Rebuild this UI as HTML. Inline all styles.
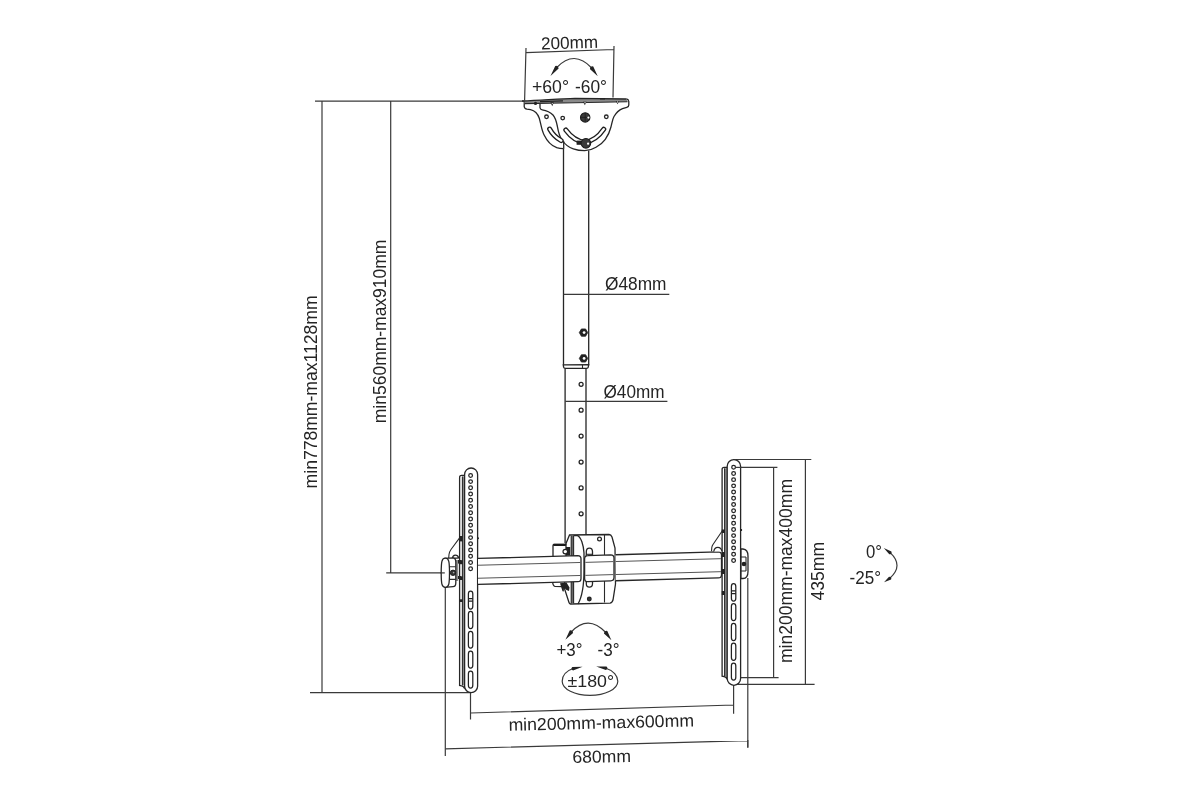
<!DOCTYPE html>
<html><head><meta charset="utf-8">
<style>
html,body{margin:0;padding:0;background:#fff;width:1200px;height:799px;overflow:hidden}
svg{display:block;will-change:transform}
text{font-family:"Liberation Sans",sans-serif;font-size:17.5px;fill:#242424}
.l{stroke:#3a3a3a;stroke-width:1.2;fill:none}
.t{stroke:#2a2a2a;stroke-width:1.1;fill:none}
.o{stroke:#262626;stroke-width:1.3;fill:none}
.w{stroke:#262626;stroke-width:1.3;fill:#fff}
.d{fill:#222;stroke:none}
.h{stroke:#222;stroke-width:1.25;fill:none}
.bi{stroke:#555;stroke-width:1;fill:none}
</style></head><body>
<svg width="1200" height="799" viewBox="0 0 1200 799">
<!-- ===== LEFT DIMENSIONS ===== -->
<g id="leftdims">
<path class="l" d="M315,101.2 L524,101.2 M322,101.2 L322,692.7 M310,692.7 L470,692.7 M390.7,101.2 L390.7,572.9 M386.2,572.9 L444.6,572.9 M445.3,587.5 L445.3,756"/>
<text transform="translate(316.5 488.4) rotate(-90)" x="0" y="0" textLength="193" lengthAdjust="spacingAndGlyphs">min778mm-max1128mm</text>
<text transform="translate(386 423.2) rotate(-90)" x="0" y="0" textLength="183.6" lengthAdjust="spacingAndGlyphs">min560mm-max910mm</text>
</g>

<!-- ===== RIGHT DIMS ===== -->
<g id="rightdims">
<path class="l" d="M733.3,459.5 L811.3,459.5 M805.4,459.5 L805.4,684.4 M733.5,684.4 L814.6,684.4"/>
<path class="l" d="M735.3,467.4 L777.4,467.4 M773.6,467.4 L773.6,677.6 M735,677.6 L778.6,677.6 M747.8,578 L747.8,747.5"/>
<text transform="translate(792 663) rotate(-90)" textLength="184" lengthAdjust="spacingAndGlyphs">min200mm-max400mm</text>
<text transform="translate(824 600.5) rotate(-90)" textLength="58.5" lengthAdjust="spacingAndGlyphs">435mm</text>
<text x="866" y="558.1" textLength="16" lengthAdjust="spacingAndGlyphs">0°</text>
<text x="849.5" y="583.9" textLength="31.5" lengthAdjust="spacingAndGlyphs">-25°</text>
<path class="l" d="M890.1,552.65 Q904.05,565.5 889.8,578.3"/>
<path class="d" d="M891.41,551.38 L883.80,548.00 L889.27,554.28 Q892.35,554.31 891.41,551.38 Z M889.03,576.65 L884.00,582.30 L891.07,579.61 Q892.10,576.71 889.03,576.65 Z"/>
</g>

<!-- ===== BOTTOM DIMS ===== -->
<g id="bottomdims">
<path class="l" d="M470.5,692.7 L470.5,719.5 M470.5,713 L733.75,705 M733.6,685 L733.6,713.8"/>
<path class="l" d="M445.3,748.8 L747.8,740.6 M747.8,740 L747.8,747.8"/>
<text x="508.5" y="728.6" textLength="185.5" lengthAdjust="spacingAndGlyphs" transform="rotate(-1.4 600 723)">min200mm-max600mm</text>
<text x="572.5" y="762.5" textLength="58.5" lengthAdjust="spacingAndGlyphs" transform="rotate(-1 600 757)">680mm</text>
</g>

<!-- ===== TOP DIMENSION 200mm ===== -->
<g id="top">
<path class="l" d="M526,52.7 L614,49.5 M526,48 L524.6,100.5 M614,46 L613,97.5"/>
<text x="541" y="48.6" textLength="57" lengthAdjust="spacingAndGlyphs" transform="rotate(-1.8 570 43)">200mm</text>
<path class="l" d="M556.75,67.5 Q574.25,49.25 591.75,68"/>
<path class="d" d="M555.24,66.01 L550.50,76.00 L558.62,68.50 Q558.41,65.24 555.24,66.01 Z M589.88,68.99 L597.75,76.25 L593.27,66.52 Q590.10,65.74 589.88,68.99 Z"/>
<text x="532" y="92.8" textLength="37" lengthAdjust="spacingAndGlyphs">+60°</text>
<text x="575" y="92.8" textLength="32" lengthAdjust="spacingAndGlyphs">-60°</text>
</g>

<!-- ===== CEILING BRACKET ===== -->
<g id="ceiling">
<path class="w" d="M524.3,101 L524.2,106.5 Q524.5,108.8 527,109.2 L530.5,109.6 C534,110.5 537.5,113 539.2,118 C541,124 541.5,130 544,134.7 C547,141 551,145.5 556.7,147.7 C559,148.5 561,148.7 563.5,148.7"/>
<path class="w" d="M540,101.6 L540,107.8 Q540.2,109.6 542.2,109.9 C546,110.6 550,112 553,115 C555.5,117.8 556.5,122 557.3,126 C558.2,131 559,136 562,140 C565,144.5 569,147.5 573.3,148.9 C577,150.2 581,150.7 584.7,150.7 C589,150.6 592.5,149.5 596,147.3 C600,145 603,142.5 605.3,139.3 C608,135.5 609.8,131.5 610.8,127.5 C612,123 612.5,119 614,116.5 C616,113 619,110 622.5,108.6 L626.8,107.4 Q628.8,106.8 628.8,105 L628.8,101.5 Q628.6,99.3 626.5,99"/>
<path d="M524.5,101 C545,100 560,98.6 575,98.3 L626.5,99 L627.5,101.7 L575,102.8 C560,102.9 545,103.3 524.5,103.8 Z" fill="#8a8a8a" stroke="none"/>
<path class="o" d="M522,101 C545,100 560,98.6 575,98.3 L626.5,99"/>
<path class="t" d="M524.5,103.6 C545,103.2 560,102.9 575,102.8 L627.5,101.7" stroke-width="0.9"/>
<path d="M540,101.6 L563,100.8" stroke="#222" stroke-width="1.3"/>
<path d="M600,98.8 L605,98.8" stroke="#222" stroke-width="1.4"/>
<circle class="d" cx="535.5" cy="103.4" r="1.6"/>
<path class="d" d="M550.3,102.2 L553.8,102.2 L552.3,106.2 Z"/>
<path class="d" d="M583,101.8 L586.5,101.8 L584.9,105.3 Z"/>
<path class="d" d="M615.8,100.9 L619.2,100.9 L617.6,104.2 Z"/>
<circle fill="#ddd" cx="552.3" cy="103.6" r="0.7"/>
<circle fill="#ddd" cx="585" cy="102.8" r="0.7"/>
<circle fill="#ddd" cx="617.6" cy="102" r="0.7"/>
<circle class="o" cx="546.5" cy="116.8" r="1.8"/>
<circle class="o" cx="562.7" cy="118.1" r="1.8"/>
<circle class="o" cx="606.3" cy="116.8" r="1.8"/>
<circle cx="585.2" cy="117.4" r="4.7" fill="#3a3a3a" stroke="#1a1a1a" stroke-width="1.1"/>
<path d="M581,117.4 h7 M585.2,113.2 v8" stroke="#1e1e1e" stroke-width="0.8"/>
<circle fill="#fff" cx="588.4" cy="117.6" r="1.1"/>
<!-- slots -->
<path d="M549.6,129 C552,133.5 555.5,137.5 561.2,140.6" fill="none" stroke="#1e1e1e" stroke-width="5" stroke-linecap="round"/>
<path d="M549.6,129 C552,133.5 555.5,137.5 561.2,140.6" fill="none" stroke="#fff" stroke-width="2.4" stroke-linecap="round"/>
<path d="M565.8,130 C571,137 577,141.5 584.7,142.2 C592,141.5 598.5,137 603.8,129.2" fill="none" stroke="#1e1e1e" stroke-width="5" stroke-linecap="round"/>
<path d="M565.8,130 C571,137 577,141.5 584.7,142.2 C592,141.5 598.5,137 603.8,129.2" fill="none" stroke="#fff" stroke-width="2.4" stroke-linecap="round"/>
<path class="o" d="M563.7,141.3 L563.7,148.7"/>
<rect class="d" x="576.6" y="140.6" width="4.8" height="4.2"/>
<circle cx="585.9" cy="143.3" r="4.8" fill="#3a3a3a" stroke="#1a1a1a" stroke-width="1.1"/>
<circle fill="#fff" cx="588.1" cy="143.7" r="1.1"/>
</g>

<!-- ===== POLE ===== -->
<g id="pole">
<path class="o" d="M563.5,148.6 L563.5,365.5 M588.7,150.4 L588.7,365.5" stroke-width="1.25"/>
<path class="w" d="M563.3,364.8 L588.6,364.6 L588.3,367.2 Q588,368.3 586.5,368.3 L565.5,368.4 Q563.8,368.3 563.6,367.2 Z" stroke-width="1.1"/>
<path class="t" d="M582.5,364.8 L582.5,368.3" stroke-width="0.9"/>
<polygon points="587.70,332.60 585.60,336.24 581.40,336.24 579.30,332.60 581.40,328.96 585.60,328.96" fill="#222" stroke="#222" stroke-width="0.8" stroke-linejoin="round"/><circle cx="584.1" cy="332.6" r="1.4" fill="#fff"/>
<polygon points="587.70,358.40 585.60,362.04 581.40,362.04 579.30,358.40 581.40,354.76 585.60,354.76" fill="#222" stroke="#222" stroke-width="0.8" stroke-linejoin="round"/><circle cx="584.1" cy="358.4" r="1.4" fill="#fff"/>
<path class="o" d="M565.1,368.4 L565.1,543 M586,368.4 L586,535.6" stroke-width="1.25"/>
<circle class="h" cx="581.1" cy="384.3" r="2"/>
<circle class="h" cx="581.1" cy="410.2" r="2"/>
<circle class="h" cx="581.1" cy="436.1" r="2"/>
<circle class="h" cx="581.1" cy="462" r="2"/>
<circle class="h" cx="581.1" cy="487.9" r="2"/>
<circle class="h" cx="581.1" cy="513.8" r="2"/>
<path class="l" d="M563.5,294.4 L669.3,294.4 M565.3,401.4 L667.4,401.4"/>
<text x="605" y="289.7" textLength="61.5" lengthAdjust="spacingAndGlyphs">Ø48mm</text>
<text x="603.5" y="398" textLength="61" lengthAdjust="spacingAndGlyphs">Ø40mm</text>
</g>

<!-- ===== BRACKETS ===== -->
<g id="brackets">
<path class="w" d="M459.6,685.5 L459.6,477.4 Q459.6,475.4 461.6,475.4 L464.6,475.4 L464.6,688.5 Q463.6,686.0 461.6,685.8 Z"/>
<rect x="462.4" y="476.4" width="2.2000000000000455" height="209.10000000000002" fill="#8c8c8c"/>
<path class="t" d="M462.4,476.4 L462.4,685.5"/>
<rect class="d" x="459.3" y="536" width="3.3999999999999546" height="5.399999999999977"/>
<rect class="d" x="459.3" y="560.2" width="3.3999999999999546" height="4.0"/>
<rect class="d" x="459.3" y="576.4" width="3.3999999999999546" height="3.6000000000000227"/>
<rect class="d" x="459.3" y="599.3" width="3.3999999999999546" height="2.7000000000000455"/>
<path class="w" d="M464.6,474.5 L464.6,686.2 A6.5,6.5 0 0 0 477.6,686.2 L477.6,474.5 A6.5,6.5 0 0 0 464.6,474.5 Z"/>
<circle class="h" cx="470.6" cy="475.40" r="1.85"/>
<circle class="h" cx="470.6" cy="481.62" r="1.85"/>
<circle class="h" cx="470.6" cy="487.84" r="1.85"/>
<circle class="h" cx="470.6" cy="494.06" r="1.85"/>
<circle class="h" cx="470.6" cy="500.28" r="1.85"/>
<circle class="h" cx="470.6" cy="506.50" r="1.85"/>
<circle class="h" cx="470.6" cy="512.72" r="1.85"/>
<circle class="h" cx="470.6" cy="518.94" r="1.85"/>
<circle class="h" cx="470.6" cy="525.16" r="1.85"/>
<circle class="h" cx="470.6" cy="531.38" r="1.85"/>
<circle class="h" cx="470.6" cy="537.60" r="1.85"/>
<circle class="h" cx="470.6" cy="543.82" r="1.85"/>
<circle class="h" cx="470.6" cy="550.04" r="1.85"/>
<circle class="h" cx="470.6" cy="556.26" r="1.85"/>
<circle class="h" cx="470.6" cy="562.48" r="1.85"/>
<circle class="h" cx="470.6" cy="568.70" r="1.85"/>
<rect class="h" x="468.40" y="591" width="4.4" height="18.00" rx="2.2" ry="2.8000000000000003"/>
<path class="h" d="M468.40,598.60 h4.4 M468.40,601.20 h4.4" stroke-width="0.9"/>
<rect class="h" x="468.40" y="611.3" width="4.4" height="17.20" rx="2.2" ry="2.8000000000000003"/>
<rect class="h" x="468.40" y="631.3" width="4.4" height="16.70" rx="2.2" ry="2.8000000000000003"/>
<rect class="h" x="468.40" y="651.2" width="4.4" height="16.80" rx="2.2" ry="2.8000000000000003"/>
<rect class="h" x="468.40" y="671" width="4.4" height="17.00" rx="2.2" ry="2.8000000000000003"/>
<circle class="d" cx="478.0" cy="538.3" r="1"/>
<circle class="d" cx="478.0" cy="562" r="1"/>
<circle class="d" cx="478.0" cy="578" r="1"/>
<path class="w" d="M722.1,676.2 L722.1,469.3 Q722.1,467.3 724.1,467.3 L727.2,467.3 L727.2,679.2 Q726.2,676.7 724.1,676.5 Z"/>
<rect x="724.6" y="468.3" width="2.6000000000000227" height="207.90000000000003" fill="#8c8c8c"/>
<path class="t" d="M724.6,468.3 L724.6,676.2"/>
<rect class="d" x="721.8000000000001" y="529.5" width="3.1" height="3.5"/>
<rect class="d" x="721.8000000000001" y="552" width="3.1" height="5"/>
<rect class="d" x="721.8000000000001" y="569" width="3.1" height="5"/>
<rect class="d" x="721.8000000000001" y="591" width="3.1" height="4"/>
<path class="w" d="M727.2,466.3 L727.2,678.5999999999999 A6.699999999999989,6.699999999999989 0 0 0 740.6,678.5999999999999 L740.6,466.3 A6.699999999999989,6.699999999999989 0 0 0 727.2,466.3 Z"/>
<circle class="h" cx="733.6" cy="467.20" r="1.85"/>
<circle class="h" cx="733.6" cy="473.42" r="1.85"/>
<circle class="h" cx="733.6" cy="479.64" r="1.85"/>
<circle class="h" cx="733.6" cy="485.86" r="1.85"/>
<circle class="h" cx="733.6" cy="492.08" r="1.85"/>
<circle class="h" cx="733.6" cy="498.30" r="1.85"/>
<circle class="h" cx="733.6" cy="504.52" r="1.85"/>
<circle class="h" cx="733.6" cy="510.74" r="1.85"/>
<circle class="h" cx="733.6" cy="516.96" r="1.85"/>
<circle class="h" cx="733.6" cy="523.18" r="1.85"/>
<circle class="h" cx="733.6" cy="529.40" r="1.85"/>
<circle class="h" cx="733.6" cy="535.62" r="1.85"/>
<circle class="h" cx="733.6" cy="541.84" r="1.85"/>
<circle class="h" cx="733.6" cy="548.06" r="1.85"/>
<circle class="h" cx="733.6" cy="554.28" r="1.85"/>
<circle class="h" cx="733.6" cy="560.50" r="1.85"/>
<rect class="h" x="731.40" y="583.6" width="4.4" height="17.40" rx="2.2" ry="2.8000000000000003"/>
<path class="h" d="M731.40,590.90 h4.4 M731.40,593.50 h4.4" stroke-width="0.9"/>
<rect class="h" x="731.40" y="603.5" width="4.4" height="17.00" rx="2.2" ry="2.8000000000000003"/>
<rect class="h" x="731.40" y="623.3" width="4.4" height="17.20" rx="2.2" ry="2.8000000000000003"/>
<rect class="h" x="731.40" y="643" width="4.4" height="17.30" rx="2.2" ry="2.8000000000000003"/>
<rect class="h" x="731.40" y="663" width="4.4" height="17.00" rx="2.2" ry="2.8000000000000003"/>
<circle class="d" cx="741.0" cy="530" r="1"/>
</g>

<!-- ===== CLAMP ===== -->
<g id="clamp">
<!-- body -->
<path class="w" d="M569.5,535 L609,534.5 Q611,534.6 612,537 L615,548 L615.5,584 L613,600 Q612,603 610,603.2 L570.5,604 Q569.4,603.8 569,602.5 L564.6,589 L564.6,547 Z"/>
<rect x="571.2" y="535.8" width="2.4" height="67.8" fill="#6a6a6a"/>
<path class="t" d="M571.2,535.8 L571.2,603.6 M573.6,535.8 L573.6,603.6" stroke-width="0.8"/>
<path class="o" d="M573.6,535.6 L577.5,535.6 C581,537 583.5,545 584,553 L584,570 C584,585 582,597 578,604"/>
<path class="t" d="M604.5,534.6 L604.5,555 M604.5,581 L604.5,602.6"/>
<circle class="h" cx="599.5" cy="539" r="1.9"/>
<circle cx="589.3" cy="599" r="1.9" fill="#333" stroke="#222" stroke-width="1.1"/>
<path class="o" d="M586.3,556 L586.3,551.8 Q586.3,548.2 589.4,548.2 Q592.5,548.2 592.5,551.8 L592.5,556" stroke-width="1.6"/>
<path class="o" d="M586.3,581 L586.3,583.8 Q586.3,587.2 589.4,587.2 Q592.5,587.2 592.5,583.8 L592.5,581" stroke-width="1.8"/>
<path class="t" d="M586.6,554.3 h5.6" stroke-width="0.7"/>
<!-- left knob upper -->
<path class="w" d="M553,556.5 L553,545.5 Q553,544.5 554.2,544.5 L566,544.5 L566,556.5"/>
<path d="M553.3,544.9 L565.8,544.9" stroke="#1a1a1a" stroke-width="2.2"/>
<rect class="d" x="566" y="547" width="4.2" height="8.5"/>
<circle cx="565.3" cy="551.6" r="2.3" fill="#fff" stroke="#222" stroke-width="1.2"/>
<!-- left knob lower -->
<path class="o" d="M552.6,582 Q553,586 555,586.3 L563,586.6"/>
<path class="d" d="M560,583.2 L566.5,582.4 L569.5,587.5 L569,591 L566.5,590 L564,587.6 L563.8,591.5 L562.5,591.3 L561,586.5 Z"/>
<path d="M478.00,558.45 L577.80,555.67 Q581.00,555.67 581.00,558.87 L581.00,578.47 Q581.00,581.67 577.80,581.67 L478.00,584.45 Z" fill="#fff" stroke="none"/>
<path class="o" d="M478.00,558.45 L577.80,555.67 Q581.00,555.67 581.00,558.87 L581.00,578.47 Q581.00,581.67 577.80,581.67 L478.00,584.45"/>
<path class="bi" d="M478.00,565.25 L580.40,562.47 M478.00,578.25 L580.40,575.47"/>
<path d="M587.80,555.58 L610.80,554.78 Q614.00,554.78 614.00,557.98 L614.00,577.58 Q614.00,580.78 610.80,580.78 L587.80,581.58 Q584.60,581.58 584.60,578.38 L584.60,558.78 Q584.60,555.58 587.80,555.58 Z Z" fill="#fff" stroke="none"/>
<path class="o" d="M587.80,555.58 L610.80,554.78 Q614.00,554.78 614.00,557.98 L614.00,577.58 Q614.00,580.78 610.80,580.78 L587.80,581.58 Q584.60,581.58 584.60,578.38 L584.60,558.78 Q584.60,555.58 587.80,555.58 Z"/>
<path class="bi" d="M585.40,562.38 L613.40,561.58 M585.40,575.38 L613.40,574.58"/>
<path d="M615.60,554.74 L718.30,551.88 Q721.50,551.88 721.50,555.08 L721.50,574.68 Q721.50,577.88 718.30,577.88 L615.60,580.74 Z" fill="#fff" stroke="none"/>
<path class="o" d="M615.60,554.74 L718.30,551.88 Q721.50,551.88 721.50,555.08 L721.50,574.68 Q721.50,577.88 718.30,577.88 L615.60,580.74"/>
<path class="bi" d="M615.60,561.54 L720.90,558.68 M615.60,574.54 L720.90,571.68"/>
</g>

<!-- ===== KNOBS ===== -->
<g id="knobs">
<!-- left knob -->
<path class="t" d="M448.7,558 L449,554.5 Q449.5,551.5 451,549.5 L459.6,537.9"/>
<path class="w" d="M452.3,558.5 Q452.8,555.2 455.3,555.2 Q458,555.2 458.6,558 Z"/>
<rect x="455.8" y="560" width="2.4" height="21" fill="#8c8c8c"/>
<path class="w" d="M445,558.3 L453,557.9 Q455.8,558.3 455.8,562 L455.8,583 Q455.8,586.6 453,586.7 L445,587.3 Z"/>
<path class="t" d="M449.5,566.7 L455.8,566.7 M449.5,579.4 L455.8,579.4" stroke-width="1"/>
<circle cx="453" cy="572.8" r="2.7" fill="#333" stroke="#1a1a1a" stroke-width="0.9"/>
<circle fill="#aaa" cx="453.6" cy="572.6" r="0.8"/>
<rect class="d" x="458" y="560" width="3.2" height="3.6"/>
<rect class="d" x="458" y="576" width="3.2" height="3"/>
<path class="w" d="M441.2,572.75 C441.2,561 441.9,558.2 445.35,558.2 C448.8,558.2 449.5,561 449.5,572.75 C449.5,584.5 448.8,587.3 445.35,587.3 C441.9,587.3 441.2,584.5 441.2,572.75 Z"/>
<!-- right knob side -->
<path class="t" d="M711.5,551.3 L711.8,547.5 Q712,546 713,544.5 L722.5,530.5"/>
<path class="w" d="M713.8,551.5 Q714.3,547.3 717.8,547.3 Q721.3,547.3 722,551.5"/>
<path class="w" d="M741,549 L743,549 Q748,549.6 748,556 L748,571.5 Q748,578.5 743,578.5 L741,578.5 Z"/>
<path class="t" d="M741,557 L746,557 M741,571 L746,571 M746,557 L746,571" stroke-width="0.9"/>
<circle class="d" cx="744" cy="564" r="2.3"/>
<circle class="d" cx="741.2" cy="530" r="1"/>
<path class="l" d="M440.5,572.9 L444.8,572.9"/>
<path class="l" d="M735.3,467.4 L741,467.4"/>
</g>

<!-- ===== ANGLES BOTTOM ===== -->
<g id="angles">
<path class="l" d="M571.2,632 Q588,613.95 605.8,632.5"/>
<path class="d" d="M569.70,630.50 L565.40,639.70 L573.06,633.02 Q572.88,629.76 569.70,630.50 Z M603.93,633.49 L611.40,640.20 L607.32,631.02 Q604.15,630.24 603.93,633.49 Z"/>
<text x="556.5" y="656.3" textLength="26" lengthAdjust="spacingAndGlyphs">+3°</text>
<text x="597.5" y="656.3" textLength="22" lengthAdjust="spacingAndGlyphs">-3°</text>
<path class="l" d="M573,668.5 C566,671 562.2,676 562.2,681.2 C562.2,689 574.6,695.4 590,695.4 C605.4,695.4 617.8,689 617.8,681.2 C617.8,676 613.5,670.5 605.9,668.2"/>
<path class="d" d="M573.04,670.42 L582.60,666.80 L572.37,666.89 Q570.25,669.12 573.04,670.42 Z M606.52,666.58 L596.20,666.50 L605.87,670.12 Q608.65,668.81 606.52,666.58 Z"/>
<text x="567.5" y="687.2" textLength="46.5" lengthAdjust="spacingAndGlyphs" style="font-size:16.5px">±180°</text>
</g>
</svg>
</body></html>
